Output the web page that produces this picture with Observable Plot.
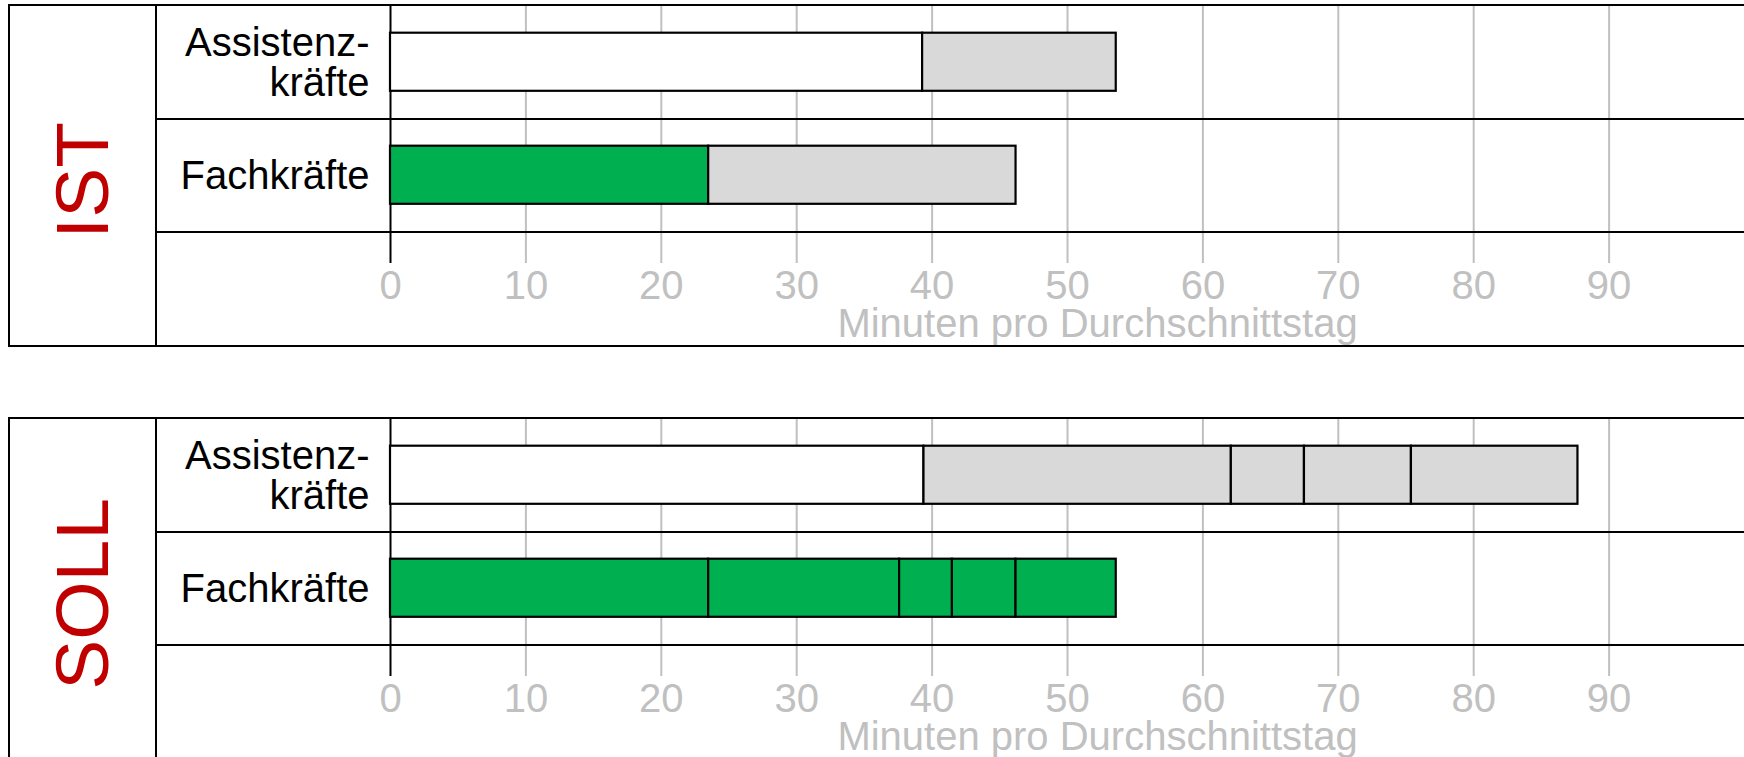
<!DOCTYPE html>
<html>
<head>
<meta charset="utf-8">
<script src="https://cdn.jsdelivr.net/npm/d3@7"></script>
<script src="https://cdn.jsdelivr.net/npm/@observablehq/plot@0.6"></script>
<style>
  html, body { margin: 0; padding: 0; background: #fff; overflow: hidden; }
  body { width: 1744px; font-family: "Liberation Sans", Arial, sans-serif; }
  .panel {
    margin-left: 8px; width: 1736px; height: 339px;
    border-top: 2px solid #000; border-bottom: 2px solid #000; border-left: 2px solid #000;
    display: flex;
  }
  .panel.first { margin-top: 4px; }
  .panel.second { margin-top: 70px; }
  .side {
    width: 145px; border-right: 2px solid #000;
    display: flex; align-items: center; justify-content: center;
  }
  .side span {
    position: relative; top: 5px;
    writing-mode: vertical-rl; transform: rotate(180deg);
    color: #c00000; font-size: 75px; line-height: 1;
  }
  .chart { width: 1587px; height: 339px; }
</style>
</head>
<body>
<div id="root"></div>
<script>
// ---- data ----
const panels = ["IST", "SOLL"];
const categories = ["Assistenzkräfte", "Fachkräfte"];
const categoryLabels = ["Assistenz-\nkräfte", "Fachkräfte"];
const xTicks = [0, 10, 20, 30, 40, 50, 60, 70, 80, 90];
const axisTitle = "Minuten pro Durchschnittstag";

// segment lengths (minutes), left to right
const istAssistenz = [39.3, 14.3];
const istAssistenzKinds = ["basis", "zusatz"];
const istFach = [23.5, 22.7];
const istFachKinds = ["fach", "zusatz"];

const sollAssistenz = [39.4, 22.7, 5.4, 7.9, 12.3];
const sollAssistenzKinds = ["basis", "zusatz", "zusatz", "zusatz", "zusatz"];
const sollFach = [23.5, 14.1, 3.9, 4.7, 7.4];
const sollFachKinds = ["fach", "fach", "fach", "fach", "fach"];

const kindColors = { basis: "#ffffff", fach: "#00b050", zusatz: "#d9d9d9" };

function segments(category, values, kinds) {
  const ends = d3.cumsum(values);
  return values.map((v, i) => ({
    category,
    x1: i === 0 ? 0 : ends[i - 1],
    x2: ends[i],
    color: kindColors[kinds[i]]
  }));
}

const panelRows = {
  IST: [...segments("Assistenzkräfte", istAssistenz, istAssistenzKinds),
        ...segments("Fachkräfte", istFach, istFachKinds)],
  SOLL: [...segments("Assistenzkräfte", sollAssistenz, sollAssistenzKinds),
         ...segments("Fachkräfte", sollFach, sollFachKinds)]
};

const root = document.getElementById("root");

panels.forEach((name, pi) => {
  const panel = document.createElement("div");
  panel.className = "panel " + (pi === 0 ? "first" : "second");
  const side = document.createElement("div");
  side.className = "side";
  const lab = document.createElement("span");
  lab.textContent = name;
  side.appendChild(lab);
  const chart = document.createElement("div");
  chart.className = "chart";
  panel.appendChild(side);
  panel.appendChild(chart);
  root.appendChild(panel);

  const svg = Plot.plot({
    width: 1587,
    height: 339,
    marginTop: 0,
    marginBottom: 112.5,
    marginLeft: 233,
    marginRight: 0,
    x: { domain: [0, 100] },
    y: { domain: categories, padding: 0 },
    color: { type: "identity" },
    style: { fontFamily: "'Liberation Sans', Arial, sans-serif", fontSize: "40px", background: "transparent", overflow: "visible" },
    marks: [
      Plot.ruleX(xTicks.filter(d => d > 0), { stroke: "#c0c0c0", strokeWidth: 2, insetBottom: -30.5 }),
      Plot.ruleX([0], { stroke: "#000", strokeWidth: 2, insetBottom: -30.5 }),
      Plot.barX(panelRows[name], {
        x1: "x1", x2: "x2", y: "category", fill: "color",
        stroke: "#000", strokeWidth: 2.2, insetTop: 26.7, insetBottom: 28.2
      }),
      Plot.axisX(xTicks, {
        anchor: "bottom", tickSize: 0, tickPadding: 37.5, fontSize: 40,
        fill: "#c0c0c0", label: null
      }),
      Plot.axisY({
        anchor: "left", tickSize: 0, tickPadding: 21, fontSize: 40, lineHeight: 1.0,
        tickFormat: d => categoryLabels[categories.indexOf(d)], label: null
      }),
      Plot.text([axisTitle], {
        frameAnchor: "bottom", lineAnchor: "middle", dx: 30, dy: 91.4,
        fontSize: 40, fill: "#c0c0c0"
      })
    ]
  });
  chart.appendChild(svg);

  // row separator lines at band boundaries
  const ys = svg.scale("y");
  const g = d3.select(svg).append("g");
  categories.forEach(c => {
    const y = ys.apply(c) + ys.bandwidth;
    g.append("line")
      .attr("x1", 0).attr("x2", 1587)
      .attr("y1", y).attr("y2", y)
      .attr("stroke", "#000").attr("stroke-width", 2);
  });
});
</script>
</body>
</html>
